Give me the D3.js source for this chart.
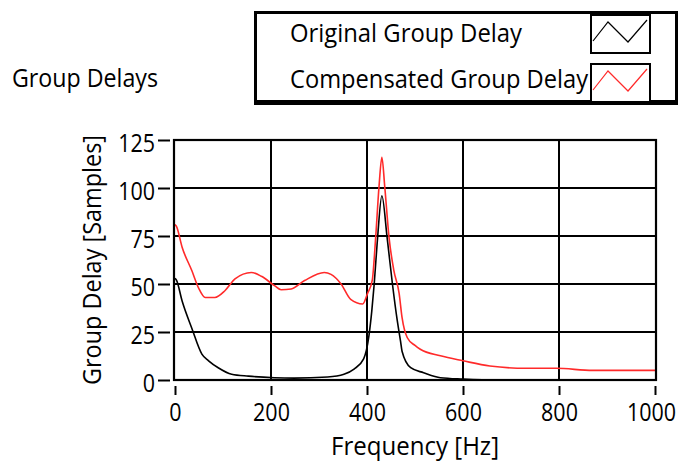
<!DOCTYPE html>
<html>
<head>
<meta charset="utf-8">
<script src="https://cdn.jsdelivr.net/npm/d3@7"></script>
<style>
  html, body { margin: 0; padding: 0; background: #fff; }
  text { font-family: "Open Sans", "Noto Sans", sans-serif; font-size: 22px; fill: #000; }
</style>
</head>
<body>
<script>
// ---- data ----
const xTicks = [0, 200, 400, 600, 800, 1000];
const yTicks = [0, 25, 50, 75, 100, 125];
const seriesNames = ["Original Group Delay", "Compensated Group Delay"];
const seriesColors = ["#000000", "#ff2a2a"];

const origFreq = [0, 3, 15, 35, 56, 70, 90, 118, 153, 207, 248, 318, 352, 373, 393, 404, 410, 415, 422, 431, 442, 453, 463, 470, 473, 491, 518, 553, 600, 677, 1000];
const origDelay = [53, 52, 41, 27, 13.5, 10, 6.4, 3, 2, 1.2, 1, 1.6, 3, 5.7, 11, 23, 36, 50, 74, 96, 74, 50, 31, 20, 15, 6.4, 3.8, 1.2, 0.5, 0, 0];

const compFreq = [0, 3, 15, 35, 49, 63, 83, 104, 125, 159, 180, 208, 221, 242, 270, 311, 325, 346, 366, 391, 401, 411, 418, 425, 431, 437, 446, 456, 467, 473, 484, 500, 511, 553, 600, 656, 732, 794, 870, 1000];
const compDelay = [81, 80, 69, 57, 48, 43, 43, 46.5, 52.7, 56, 54, 49, 47, 47.4, 51.8, 56, 55, 50, 42, 39.6, 45, 52, 74, 100.6, 116, 100.6, 74, 57, 45, 32.6, 22, 18, 16, 12.6, 10, 7.3, 6.1, 6.1, 5, 5];

// ---- layout ----
const W = 679, H = 464;
const svg = d3.select("body").append("svg").attr("width", W).attr("height", H);

const plot = { left: 174, right: 656, top: 140, bottom: 380 };
const x = d3.scaleLinear().domain([0, 1000]).range([175, 655]);
const y = d3.scaleLinear().domain([0, 125]).range([380, 140]);
const VS = 1.18; // vertical stretch of text

function label(parent, str, tx, ty, anchor, width, rot) {
  const t = parent.append("text")
    .attr("transform", `translate(${tx},${ty})${rot ? " rotate(-90)" : ""} scale(1,${VS})`)
    .attr("text-anchor", anchor)
    .text(str);
  if (width) t.attr("textLength", width).attr("lengthAdjust", "spacingAndGlyphs");
  return t;
}

// title
label(svg, "Group Delays", 12, 86.5, "start", 146);

// ---- grid ----
const grid = svg.append("g");
grid.selectAll("line.v").data(xTicks.slice(1, -1)).join("line")
  .attr("x1", d => x(d)).attr("x2", d => x(d))
  .attr("y1", plot.top).attr("y2", plot.bottom)
  .attr("stroke", "#000").attr("stroke-width", 2);
grid.selectAll("line.h").data(yTicks.slice(1, -1)).join("line")
  .attr("x1", plot.left).attr("x2", plot.right)
  .attr("y1", d => y(d)).attr("y2", d => y(d))
  .attr("stroke", "#000").attr("stroke-width", 2);

// ---- lines ----
svg.append("clipPath").attr("id", "clip").append("rect")
  .attr("x", plot.left).attr("y", plot.top - 2)
  .attr("width", plot.right - plot.left).attr("height", plot.bottom - plot.top + 2);

const line = d3.line().x(d => x(d[0])).y(d => y(d[1])).curve(d3.curveMonotoneX);
const series = [
  d3.zip(origFreq, origDelay),
  d3.zip(compFreq, compDelay)
];
svg.append("g").attr("clip-path", "url(#clip)")
  .selectAll("path").data(series).join("path")
  .attr("d", line)
  .attr("fill", "none")
  .attr("stroke", (d, i) => seriesColors[i])
  .attr("stroke-width", 1.6);

// plot frame
svg.append("rect")
  .attr("x", plot.left).attr("y", plot.top)
  .attr("width", plot.right - plot.left).attr("height", plot.bottom - plot.top)
  .attr("fill", "none").attr("stroke", "#000").attr("stroke-width", 2.2);

// ---- axes ----
const xAxis = svg.append("g").attr("transform", "translate(0,386)")
  .call(d3.axisBottom(x).tickValues(xTicks).tickSize(9).tickFormat(d3.format("d")));
xAxis.select(".domain").remove();
xAxis.selectAll(".tick line").attr("stroke", "#000").attr("stroke-width", 2);
xAxis.selectAll(".tick text")
  .attr("y", null).attr("dy", null)
  .attr("transform", (d, i) => `translate(${i === xTicks.length - 1 ? -4 : 0},35) scale(1,${VS})`)
  .attr("fill", "#000").style("font-size", "21.5px").style("font-family", "'Open Sans'");

const yAxis = svg.append("g").attr("transform", "translate(170,0)")
  .call(d3.axisLeft(y).tickValues(yTicks).tickSize(12).tickFormat(d3.format("d")));
yAxis.select(".domain").remove();
yAxis.selectAll(".tick line").attr("stroke", "#000").attr("stroke-width", 2);
yAxis.selectAll(".tick text")
  .attr("x", null).attr("dy", null)
  .attr("transform", `translate(-15,11) scale(1,${VS})`)
  .attr("fill", "#000").style("font-size", "21.5px").style("font-family", "'Open Sans'");

// axis titles
label(svg, "Frequency [Hz]", 331, 454.5, "start", 168);
label(svg, "Group Delay [Samples]", 101, 385, "start", 250, true);

// ---- legend ----
const lg = svg.append("g");
lg.append("rect").attr("x", 254).attr("y", 11).attr("width", 424).attr("height", 94).attr("fill", "#000");
lg.append("rect").attr("x", 257).attr("y", 14).attr("width", 418).attr("height", 86).attr("fill", "#fff");

const rowBase = [42, 88];
const boxTop = [14, 63];
seriesNames.forEach((name, i) => {
  label(lg, name, 290, rowBase[i], "start", i === 0 ? 232 : 298);
});
seriesNames.forEach((name, i) => {
  const bt = boxTop[i];
  lg.append("rect").attr("x", 591).attr("y", bt + 1).attr("width", 59).attr("height", 38)
    .attr("fill", "#fff").attr("stroke", "#000").attr("stroke-width", 2);
  const zig = [[3, 27], [18, 8], [38, 28], [57, 6]];
  lg.append("polyline")
    .attr("points", zig.map(p => `${590 + p[0]},${bt + p[1]}`).join(" "))
    .attr("fill", "none").attr("stroke", seriesColors[i]).attr("stroke-width", 1.2);
});
</script>
</body>
</html>
